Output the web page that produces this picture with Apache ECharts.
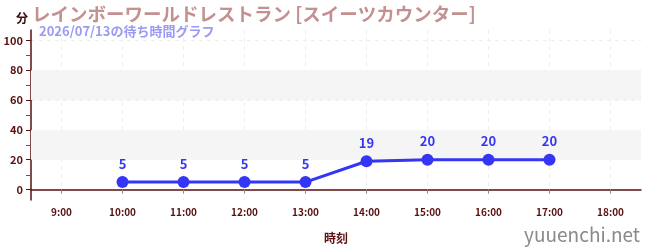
<!DOCTYPE html>
<html><head><meta charset="utf-8">
<script src="https://cdn.jsdelivr.net/npm/echarts@6/dist/echarts.min.js"></script>
<style>html,body{margin:0;padding:0;background:#fff}#c{width:650px;height:250px}</style>
</head><body><div id="c"></div>
<script>
const categories = ['9:00','10:00','11:00','12:00','13:00','14:00','15:00','16:00','17:00','18:00'];
const waitTimes = [null, 5, 5, 5, 5, 19, 20, 20, 20, null];
const yTickLabels = [0, 20, 40, 60, 80, 100];
const yMinorTicks = [10, 30, 50, 70, 90];
const shadedBands = [[20, 40], [60, 80]];
const titleText = 'レインボーワールドレストラン [スイーツカウンター]';
const subtitleText = '2026/07/13の待ち時間グラフ';

const font = '"Noto Sans CJK JP", "Noto Sans", sans-serif';
const chart = echarts.init(document.getElementById('c'), null, {renderer: 'canvas'});
const axisDark = '#5a1010';
chart.setOption({
  animation: false,
  textStyle: {fontFamily: font},
  title: [
    {text: titleText, left: 27, top: 0, textStyle: {color: '#c49090', fontSize: 18.5, fontWeight: 'bold', fontFamily: font}},
    {text: subtitleText, left: 34, top: 20, textStyle: {color: '#9a9af5', fontSize: 13, fontWeight: 'bold', fontFamily: font}},
    {text: '分', left: 11, top: 7, textStyle: {color: '#3a0a0a', fontSize: 12, fontWeight: 'bold', fontFamily: font}},
    {text: 'yuuenchi.net', right: 5, top: 220, textStyle: {color: '#8a8a8a', fontSize: 19, fontWeight: 'normal', fontFamily: font}}
  ],
  grid: {left: 31, right: 9, top: 30, bottom: 50, containLabel: false},
  xAxis: {
    type: 'category', data: categories, boundaryGap: true,
    name: '時刻', nameLocation: 'middle', nameGap: 32,
    nameTextStyle: {color: axisDark, fontSize: 12, fontWeight: 'bold', fontFamily: font},
    axisLine: {lineStyle: {color: axisDark, width: 1.5}},
    axisTick: {show: true, alignWithLabel: true, length: 4, lineStyle: {color: '#888'}},
    axisLabel: {color: axisDark, fontSize: 10, fontWeight: 'bold', margin: 7, fontFamily: font},
    splitLine: {show: true, alignWithLabel: true, lineStyle: {color: '#eeeeee', type: [4, 4]}}
  },
  yAxis: {
    type: 'value', min: -7, max: 107,
    axisLine: {show: true, lineStyle: {color: axisDark, width: 1.5}},
    axisTick: {show: true, length: 5, customValues: yTickLabels, lineStyle: {color: axisDark}},
    minorTick: {show: false},
    axisLabel: {color: axisDark, fontSize: 11, fontWeight: 'bold', margin: 8, customValues: yTickLabels, fontFamily: font},
    splitLine: {show: true, lineStyle: {color: '#eeeeee', type: [4, 4]}}
  },
  series: [
    {
      type: 'line', data: waitTimes, connectNulls: false,
      symbol: 'circle', symbolSize: 12,
      itemStyle: {color: '#3535f5'},
      lineStyle: {color: '#3535f5', width: 3},
      label: {show: true, position: 'top', distance: 6, color: '#3535f5', fontSize: 13, fontWeight: 'bold', fontFamily: font},
      markArea: {
        silent: true,
        itemStyle: {color: '#f5f5f5'},
        data: shadedBands.map(b => [{yAxis: b[0]}, {yAxis: b[1]}])
      },
      z: 5
    }
  ]
});
const minorGraphics = yMinorTicks.map(v => {
  const p = Math.round(chart.convertToPixel({yAxisIndex: 0}, v)) + 0.5;
  return {type: 'line', shape: {x1: 26, y1: p, x2: 31, y2: p}, style: {stroke: '#dd2222', lineWidth: 1}, silent: true, z: 10};
});
chart.setOption({graphic: minorGraphics});
</script></body></html>
